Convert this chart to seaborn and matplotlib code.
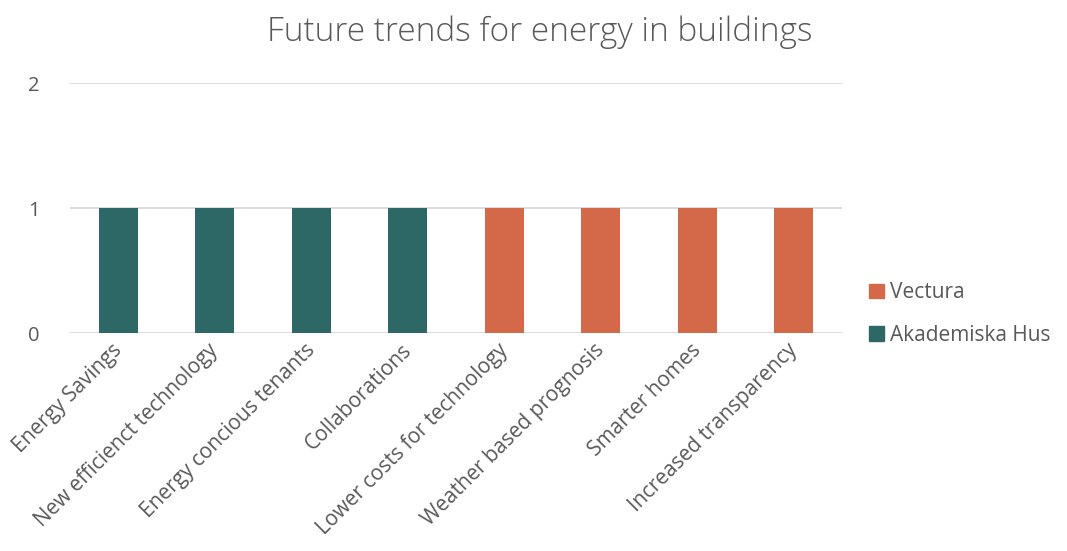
import matplotlib
matplotlib.use("Agg")
import matplotlib.pyplot as plt
import matplotlib.transforms as mtransforms
from matplotlib.patches import Patch
import seaborn as sns
import pandas as pd

categories = ["Energy Savings", "New efficienct technology", "Energy concious tenants",
              "Collaborations", "Lower costs for technology", "Weather based prognosis",
              "Smarter homes", "Increased transparency"]
akademiska_hus = [1, 1, 1, 1, 0, 0, 0, 0]
vectura = [0, 0, 0, 0, 1, 1, 1, 1]
series_names = ["Akademiska Hus", "Vectura"]
series_colors = {"Akademiska Hus": "#2D6866", "Vectura": "#D4694A"}
y_ticks = [0, 1, 2]

df = pd.DataFrame({
    "category": categories * 2,
    "value": akademiska_hus + vectura,
    "series": [series_names[0]] * len(categories) + [series_names[1]] * len(categories),
})

sns.set_theme(style="white")
plt.rcParams["font.family"] = ["Open Sans", "DejaVu Sans"]
text_color = "#595959"

fig = plt.figure(figsize=(10.67, 5.51), dpi=100)
ax = fig.add_axes([0.0656, 0.3956, 0.7235, 0.4537])

sns.barplot(data=df, x="category", y="value", hue="series", dodge=False,
            palette=series_colors, saturation=1, width=0.4, linewidth=0, ax=ax,
            hue_order=series_names, legend=False)

ax.set_ylim(0, 2)
ax.set_yticks(y_ticks)
ax.set_yticklabels([str(t) for t in y_ticks], fontsize=14.5, color=text_color)
ax.yaxis.grid(True, color="#D9D9D9", linewidth=1.3)
ax.set_axisbelow(True)
for s in ax.spines.values():
    s.set_visible(False)
ax.tick_params(axis="y", length=0, pad=22)
ax.tick_params(axis="x", length=0, pad=5)
ax.set_xticks(range(len(categories)))
ax.set_xticklabels(categories, rotation=45, ha="right", rotation_mode="anchor",
                   fontsize=15, color=text_color)
shift = mtransforms.ScaledTranslation(-7 / 100, 0, fig.dpi_scale_trans)
for lbl in ax.get_xticklabels():
    lbl.set_transform(lbl.get_transform() + shift)
ax.set_xlabel("")
ax.set_ylabel("")

fig.suptitle("Future trends for energy in buildings", x=0.506, y=0.972,
             fontsize=24, color=text_color, fontweight="light")

handles = [Patch(color=series_colors["Vectura"], label="Vectura"),
           Patch(color=series_colors["Akademiska Hus"], label="Akademiska Hus")]
fig.legend(handles=handles, loc="center left", bbox_to_anchor=(0.797, 0.43),
           frameon=False, fontsize=15, labelcolor=text_color,
           handlelength=0.7, handleheight=0.7, handletextpad=0.3, labelspacing=1.05)

fig.savefig("out.png", dpi=100)
